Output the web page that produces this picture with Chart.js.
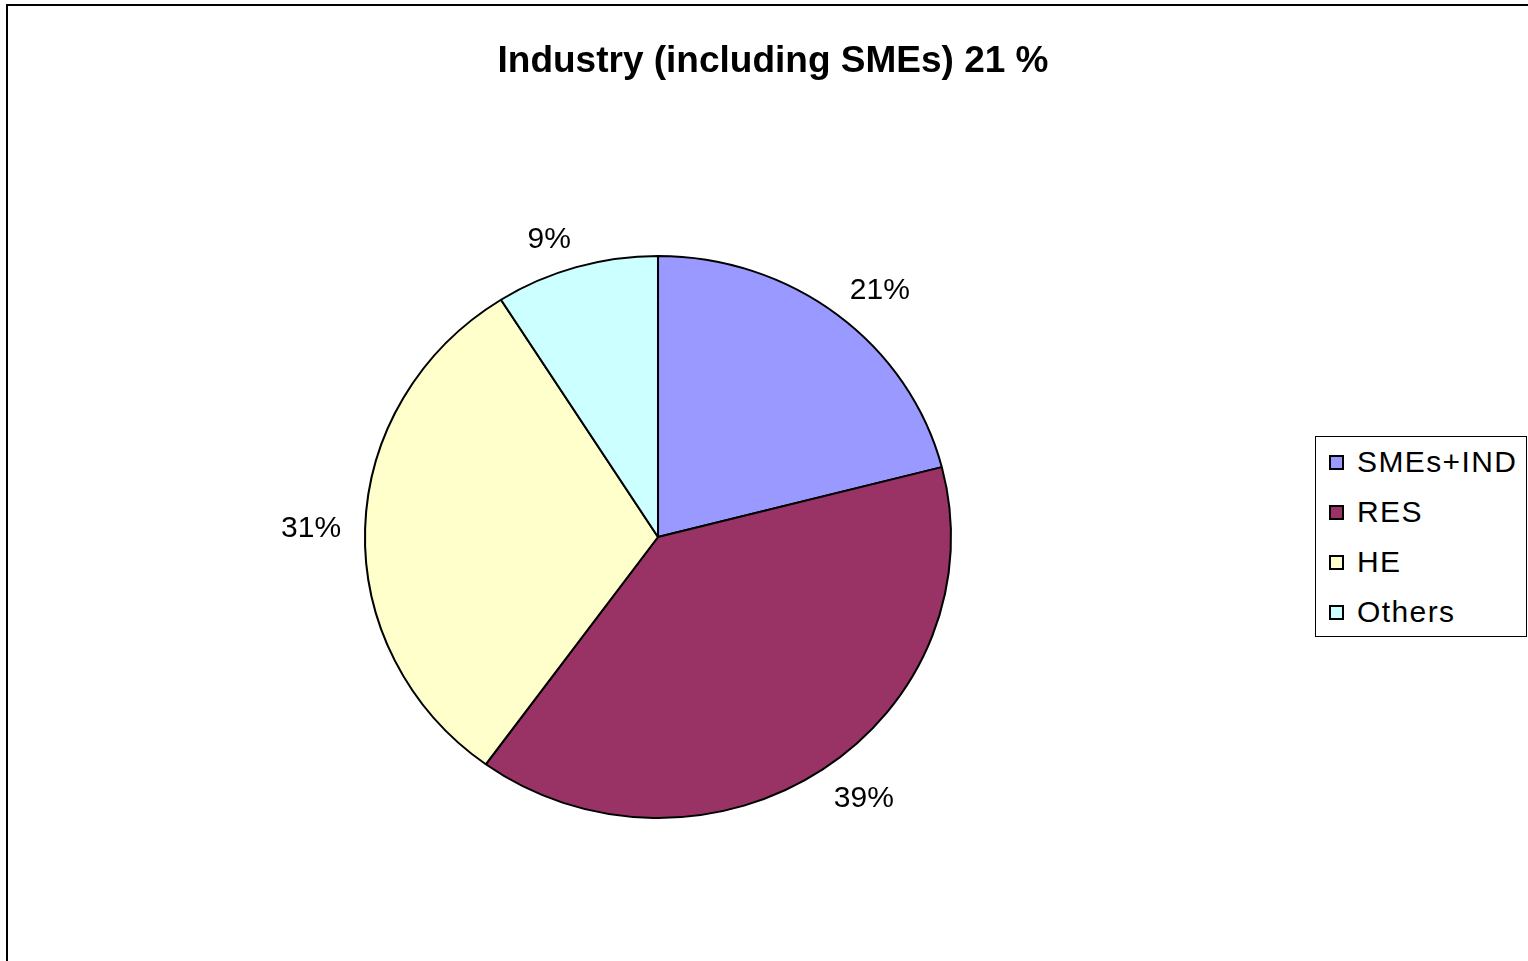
<!DOCTYPE html>
<html>
<head>
<meta charset="utf-8">
<script src="https://cdn.jsdelivr.net/npm/chart.js@4.4.1/dist/chart.umd.min.js"></script>
<style>
  html, body { margin: 0; padding: 0; background: #fff; }
  body { width: 1528px; height: 961px; position: relative; overflow: hidden; font-family: "Liberation Sans", Arial, sans-serif; }
  #frame { position: absolute; left: 6px; top: 4px; width: 1600px; height: 1000px; border-left: 2px solid #000; border-top: 2px solid #000; }
  #wrap { position: absolute; left: 0; top: 0; width: 1528px; height: 961px; }
  #title { position: absolute; left: 0; width: 1546px; top: 40px; text-align: center; font-weight: bold; font-size: 37px; line-height: 40px; color: #000; }
  #legend { position: absolute; left: 1315px; top: 436px; width: 212px; height: 201px; border: 1px solid #000; background: #fff; box-sizing: border-box; }
  .item { position: absolute; left: 13px; height: 40px; line-height: 40px; font-size: 30px; letter-spacing: 1.4px; color: #000; white-space: nowrap; }
  .sw { position: absolute; left: 0; top: 13px; width: 11px; height: 11px; border: 2px solid #000; }
  .lbl { position: absolute; left: 28px; top: 0; }
</style>
</head>
<body>
<div id="frame"></div>
<div id="wrap"><canvas id="c" width="1528" height="961"></canvas></div>
<div id="title">Industry (including SMEs) 21 %</div>
<div id="legend"></div>
<script>
const titleText = "Industry (including SMEs) 21 %";
const categories = ["SMEs+IND", "RES", "HE", "Others"];
const values = [21, 39, 31, 9];
const pctLabels = ["21%", "39%", "31%", "9%"];
const colors = ["#9999FF", "#993366", "#FFFFCC", "#CCFFFF"];

document.getElementById('title').textContent = titleText;

const legendEl = document.getElementById('legend');
const legendTops = [5, 55, 105, 155];
categories.forEach((c, i) => {
  const it = document.createElement('div');
  it.className = 'item';
  it.style.top = legendTops[i] + 'px';
  const sw = document.createElement('div');
  sw.className = 'sw';
  sw.style.background = colors[i];
  const lb = document.createElement('span');
  lb.className = 'lbl';
  lb.textContent = c;
  it.appendChild(sw); it.appendChild(lb);
  legendEl.appendChild(it);
});

// slight horizontal ellipse as in the original
const SX = 1.021, SY = 0.979;

const ellipseAndLabels = {
  id: 'ellipseAndLabels',
  beforeDatasetsDraw(chart) {
    const ctx = chart.ctx;
    const arc = chart.getDatasetMeta(0).data[0];
    ctx.save();
    ctx.translate(arc.x, arc.y);
    ctx.scale(SX, SY);
    ctx.translate(-arc.x, -arc.y);
  },
  afterDatasetsDraw(chart) {
    const ctx = chart.ctx;
    ctx.restore();
    const meta = chart.getDatasetMeta(0);
    ctx.save();
    ctx.font = '30px "Liberation Sans", Arial, sans-serif';
    ctx.fillStyle = '#000';
    ctx.textAlign = 'center';
    ctx.textBaseline = 'middle';
    meta.data.forEach((arc, i) => {
      const p = arc.getProps(['x', 'y', 'startAngle', 'endAngle', 'outerRadius'], true);
      const mid = (p.startAngle + p.endAngle) / 2;
      const c = Math.cos(mid), s = Math.sin(mid);
      const d = p.outerRadius + 20;
      const hw = ctx.measureText(pctLabels[i]).width / 2 + 1;
      const hh = 11;
      const ox = Math.sign(c) * hw * Math.min(1, Math.abs(c) * 3);
      const oy = Math.sign(s) * hh * Math.min(1, Math.abs(s) * 3);
      ctx.fillText(pctLabels[i], p.x + (c * d + ox) * SX - 2, p.y + (s * d + oy) * SY + 2);
    });
    ctx.restore();
  }
};

new Chart(document.getElementById('c'), {
  type: 'pie',
  data: {
    labels: categories,
    datasets: [{
      data: values,
      backgroundColor: colors,
      borderColor: '#000',
      borderWidth: 2,
      borderAlign: 'center'
    }]
  },
  options: {
    responsive: false,
    animation: false,
    rotation: 0,
    layout: { padding: { left: 370, right: 582, top: 249, bottom: 136 } },
    plugins: {
      legend: { display: false },
      title: { display: false },
      tooltip: { enabled: false }
    }
  },
  plugins: [ellipseAndLabels]
});
</script>
</body>
</html>
